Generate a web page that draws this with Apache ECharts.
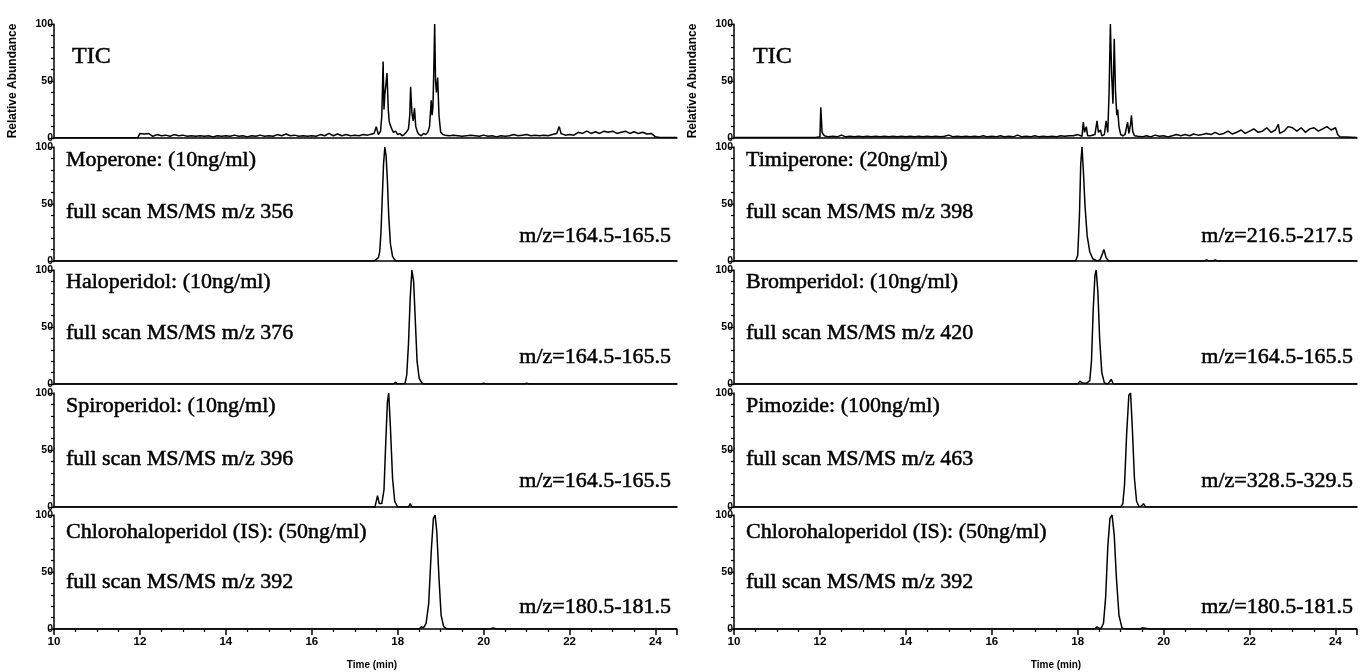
<!DOCTYPE html>
<html><head><meta charset="utf-8">
<script src="https://cdn.jsdelivr.net/npm/echarts@6/dist/echarts.min.js"></script>
<style>html,body{margin:0;padding:0;background:#fff}#c{width:1365px;height:672px}</style>
</head><body><div id="c"></div>
<script>
// ---------- DATA (time in min, relative abundance in %) ----------
const ticLeft = [[10,0.3],[11.95,0.3],[12.0,4],[12.1,3.5],[12.2,4],[12.3,1.5],[12.4,3],[12.5,2],[12.6,2.5],[12.7,1.5],[12.8,3],[12.9,2],[13.0,2.5],[13.1,1.5],[13.2,2],[13.3,1.5],[13.4,2],[13.5,1.5],[13.6,2],[13.7,1],[13.8,2],[13.9,1.5],[14.0,2],[14.1,1.5],[14.2,2.5],[14.3,1.5],[14.4,2],[14.5,1],[14.6,2],[14.7,1.5],[14.8,2.5],[14.9,1.5],[15.0,2],[15.1,1.5],[15.2,3],[15.3,2],[15.4,3.5],[15.5,2],[15.6,2.5],[15.7,1.5],[15.8,2],[15.9,1.5],[16.0,2],[16.1,1.5],[16.2,3],[16.3,2],[16.4,4],[16.5,2],[16.6,3.5],[16.7,2],[16.8,3],[16.9,2],[17.0,2.5],[17.1,2],[17.2,3],[17.3,2.5],[17.4,3.5],[17.45,4],[17.5,10],[17.55,3],[17.6,6],[17.63,20],[17.66,67],[17.68,25],[17.7,38],[17.72,45],[17.75,57],[17.78,25],[17.8,15],[17.82,12],[17.86,8],[17.9,5],[17.95,6],[18.0,3],[18.05,4],[18.1,2],[18.15,3],[18.2,5],[18.25,8],[18.28,20],[18.3,45],[18.33,22],[18.36,15],[18.39,26],[18.42,10],[18.46,5],[18.5,3],[18.55,2],[18.6,4],[18.65,3],[18.7,5],[18.74,10],[18.78,33],[18.8,20],[18.82,28],[18.84,60],[18.86,100],[18.88,50],[18.9,40],[18.93,53],[18.96,20],[19.0,5],[19.05,3],[19.1,2.5],[19.2,2],[19.3,2.5],[19.4,2],[19.5,1.5],[19.6,2],[19.7,2.5],[19.8,2],[19.9,1.5],[20.0,2.5],[20.1,1.5],[20.2,2],[20.3,1],[20.4,2],[20.5,1.5],[20.6,2],[20.7,3],[20.8,2],[20.9,2.5],[21.0,3],[21.1,2],[21.2,2.5],[21.3,2],[21.4,2.5],[21.5,2],[21.6,3],[21.7,4],[21.76,10],[21.8,4],[21.9,2.5],[22.0,3],[22.1,2.5],[22.2,5],[22.3,4],[22.4,6],[22.5,4],[22.6,5.5],[22.7,4],[22.8,6],[22.9,5],[23.0,6],[23.1,4],[23.2,5],[23.3,6],[23.4,4],[23.5,5.5],[23.6,4],[23.7,5],[23.8,3.5],[23.9,4],[24.0,1],[24.1,0.5],[24.5,0.5]];
const moperone = [[10,0],[17.45,0],[17.5,1.5],[17.55,3],[17.58,8],[17.61,25],[17.64,55],[17.67,85],[17.7,100],[17.73,92],[17.76,70],[17.79,40],[17.83,15],[17.88,4],[17.93,1],[17.98,0],[24.5,0]];
const haloperidol = [[10,0],[17.9,0],[17.95,1.5],[18.0,0],[18.17,0.5],[18.21,8],[18.25,35],[18.29,75],[18.33,100],[18.37,90],[18.41,55],[18.45,20],[18.5,5],[18.56,1],[18.62,0],[19.95,0],[20.0,0.7],[20.05,0],[20.95,0],[21.0,0.7],[21.05,0],[24.5,0]];
const spiroperidol = [[10,0],[17.47,0],[17.5,5],[17.53,10],[17.57,3],[17.63,3],[17.68,15],[17.72,55],[17.76,92],[17.79,100],[17.83,70],[17.88,25],[17.93,5],[18.0,0],[18.25,0],[18.29,3],[18.33,0],[24.5,0]];
const chloroLeft = [[10,0],[18.5,0],[18.55,2],[18.6,1],[18.66,5],[18.72,22],[18.78,68],[18.83,97],[18.87,100],[18.91,85],[18.96,45],[19.01,12],[19.07,2],[19.15,0],[20.15,0],[20.22,1],[20.3,0],[24.5,0]];

const ticRight = [[10,0.5],[11.9,0.5],[12.0,1],[12.02,27],[12.05,5],[12.1,2],[12.2,1],[12.3,1.5],[12.4,1],[12.5,2.5],[12.6,1],[12.7,1.5],[12.8,1],[12.9,1.5],[13.0,1],[13.1,1.5],[13.2,1],[13.3,1.5],[13.4,1],[13.5,1.5],[13.6,1],[13.7,1.5],[13.8,1],[13.9,1.5],[14.0,1],[14.1,1.5],[14.2,1],[14.3,1.5],[14.4,1],[14.5,1.5],[14.6,1],[14.7,1.5],[14.8,1],[14.9,1.5],[15.0,2.5],[15.1,1],[15.2,1.5],[15.3,1],[15.4,1.5],[15.5,1],[15.6,1.5],[15.7,1],[15.8,2],[15.9,1],[16.0,1.5],[16.1,1],[16.2,2],[16.3,1],[16.4,1.5],[16.5,1],[16.6,2.5],[16.7,1],[16.8,1.5],[16.9,1],[17.0,2],[17.1,1],[17.2,1.5],[17.3,1],[17.4,1.5],[17.5,1],[17.6,2],[17.7,1.5],[17.8,2],[17.9,2],[18.0,3],[18.1,1.5],[18.13,14],[18.16,5],[18.2,10],[18.23,2],[18.3,2],[18.4,3],[18.45,15],[18.48,5],[18.53,7],[18.56,2],[18.62,3],[18.66,15],[18.7,5],[18.73,40],[18.76,100],[18.79,55],[18.82,30],[18.85,87],[18.88,40],[18.91,20],[18.93,25],[18.96,10],[19.0,3],[19.05,2],[19.1,3],[19.16,14],[19.19,4],[19.23,12],[19.25,20],[19.28,6],[19.32,2],[19.4,1.5],[19.5,1],[19.6,2],[19.7,1],[19.8,2.5],[19.9,1.5],[20.0,2],[20.1,1],[20.2,2],[20.3,3],[20.4,2],[20.5,3],[20.6,2],[20.7,3.5],[20.8,2.5],[20.9,3],[21.0,4],[21.1,3],[21.2,5],[21.3,3],[21.4,4],[21.5,6],[21.6,3.5],[21.7,5],[21.8,7],[21.9,4],[22.0,6],[22.1,8],[22.2,5],[22.3,6],[22.4,9],[22.5,5],[22.6,7],[22.67,12],[22.7,4],[22.8,6],[22.9,10],[23.0,9],[23.1,6],[23.2,9],[23.3,5],[23.4,8],[23.5,9],[23.6,6],[23.7,8],[23.8,10],[23.9,7],[24.0,9],[24.05,3],[24.1,1],[24.5,0.5]];
const timiperone = [[10,0],[17.95,0],[18.0,5],[18.04,40],[18.07,85],[18.1,100],[18.13,80],[18.17,48],[18.22,22],[18.28,8],[18.35,2],[18.45,0],[18.52,1],[18.57,6],[18.61,10],[18.66,3],[18.72,0],[20.95,0],[21.0,1],[21.05,0],[21.15,0],[21.2,1],[21.25,0],[24.5,0]];
const bromperidol = [[10,0],[18.0,0],[18.05,2.5],[18.1,1],[18.2,0.5],[18.28,3],[18.32,20],[18.36,65],[18.4,95],[18.43,100],[18.47,80],[18.51,40],[18.56,10],[18.62,1],[18.7,0],[18.74,2],[18.78,4],[18.83,0],[24.5,0]];
const pimozide = [[10,0],[19.0,0],[19.05,3],[19.09,20],[19.14,65],[19.19,98],[19.23,100],[19.27,70],[19.32,25],[19.37,5],[19.43,0],[19.49,1],[19.53,3],[19.58,0],[24.5,0]];
const chloroRight = [[10,0],[18.4,0],[18.45,2],[18.5,0.5],[18.55,1],[18.6,5],[18.65,28],[18.7,72],[18.75,97],[18.8,100],[18.85,82],[18.9,45],[18.96,12],[19.03,1],[19.1,0],[19.45,0],[19.5,1],[19.6,0.5],[19.7,0],[24.5,0]];

const leftSeries = [ticLeft, moperone, haloperidol, spiroperidol, chloroLeft];
const rightSeries = [ticRight, timiperone, bromperidol, pimozide, chloroRight];

const leftNames = ['Moperone: (10ng/ml)','Haloperidol: (10ng/ml)','Spiroperidol: (10ng/ml)','Chlorohaloperidol (IS): (50ng/ml)'];
const leftScans = ['full scan MS/MS m/z 356','full scan MS/MS m/z 376','full scan MS/MS m/z 396','full scan MS/MS m/z 392'];
const leftMz = ['m/z=164.5-165.5','m/z=164.5-165.5','m/z=164.5-165.5','m/z=180.5-181.5'];
const rightNames = ['Timiperone: (20ng/ml)','Bromperidol: (10ng/ml)','Pimozide: (100ng/ml)','Chlorohaloperidol (IS): (50ng/ml)'];
const rightScans = ['full scan MS/MS m/z 398','full scan MS/MS m/z 420','full scan MS/MS m/z 463','full scan MS/MS m/z 392'];
const rightMz = ['m/z=216.5-217.5','m/z=164.5-165.5','m/z=328.5-329.5','mz/=180.5-181.5'];
const ticLabel = 'TIC';
const yAxisTitle = 'Relative Abundance';
const xAxisTitle = 'Time (min)';
const xMin = 10, xMax = 24.5, xStep = 2;
const yMin = 0, yMax = 100, yStep = 50;

// ---------- LAYOUT ----------
const panelTops = [24, 147, 270, 393, 515];
const panelH = 114;
const cols = [{left: 54, width: 623, textX: 66, ticX: 72, mzX: 671, titleX: 372},
              {left: 734, width: 623, textX: 746, ticX: 753, mzX: 1353, titleX: 1056}];
const nameY = [160, 282, 406, 532];
const scanY = [212, 333, 459, 582];
const mzY = [236, 357, 481, 607];

const grids = [], xAxes = [], yAxes = [], series = [], graphics = [];
const serifFont = '22px "Liberation Serif", "Times New Roman", serif';
const sansFamily = '"Liberation Sans", Arial, sans-serif';

function textEl(x, y, text, font, align) {
  return {type: 'text', x: x, y: y, silent: true,
    style: {text: text, font: font, fill: '#000', stroke: '#000', lineWidth: 0.5,
            textAlign: align, align: align, textVerticalAlign: 'middle', verticalAlign: 'middle'}};
}

cols.forEach((c, ci) => {
  const data = ci === 0 ? leftSeries : rightSeries;
  for (let p = 0; p < 5; p++) {
    const idx = grids.length;
    const bottomPanel = p === 4;
    grids.push({left: c.left, width: c.width, top: panelTops[p], height: panelH, containLabel: false});
    xAxes.push({
      gridIndex: idx, type: 'value', min: xMin, max: xMax, interval: xStep,
      axisLine: {show: true, onZero: false, lineStyle: {color: '#000', width: 1.5}},
      axisTick: {show: bottomPanel, length: 6, lineStyle: {color: '#000', width: 1.5}},
      minorTick: {show: bottomPanel, splitNumber: 4, length: 3, lineStyle: {color: '#000', width: 1.2}},
      axisLabel: {show: bottomPanel, color: '#000', fontWeight: 'bold', fontSize: 11.5,
                  fontFamily: sansFamily, margin: 7, showMaxLabel: false},
      splitLine: {show: false}, minorSplitLine: {show: false}
    });
    yAxes.push({
      gridIndex: idx, type: 'value', min: yMin, max: yMax, interval: yStep,
      axisLine: {show: true, lineStyle: {color: '#000', width: 1.5}},
      axisTick: {show: true, length: 6, lineStyle: {color: '#000', width: 1.3}},
      minorTick: {show: true, splitNumber: 5, length: 3, lineStyle: {color: '#000', width: 1.2}},
      axisLabel: {show: true, color: '#000', fontWeight: 'bold', fontSize: 10.5,
                  fontFamily: sansFamily, margin: 1},
      splitLine: {show: false}, minorSplitLine: {show: false},
      name: p === 0 ? yAxisTitle : '', nameLocation: 'middle', nameRotate: 90, nameGap: 35,
      nameTextStyle: {color: '#000', fontWeight: 'bold', fontSize: 12, fontFamily: sansFamily}
    });
    series.push({
      type: 'line', xAxisIndex: idx, yAxisIndex: idx, data: data[p],
      showSymbol: false, symbol: 'none', smooth: false, silent: true,
      lineStyle: {color: '#000', width: 1.5}
    });
  }
  const names = ci === 0 ? leftNames : rightNames;
  const scans = ci === 0 ? leftScans : rightScans;
  const mzs = ci === 0 ? leftMz : rightMz;
  graphics.push(textEl(c.ticX, 57, ticLabel, '24px "Liberation Serif", serif', 'left'));
  for (let k = 0; k < 4; k++) {
    graphics.push(textEl(c.textX, nameY[k], names[k], serifFont, 'left'));
    graphics.push(textEl(c.textX, scanY[k], scans[k], serifFont, 'left'));
    graphics.push(textEl(c.mzX, mzY[k], mzs[k], serifFont, 'right'));
  }
  graphics.push({type: 'text', x: c.titleX, y: 665, silent: true,
    style: {text: xAxisTitle, font: 'bold 10px ' + sansFamily, fill: '#000',
            textAlign: 'center', align: 'center', textVerticalAlign: 'middle', verticalAlign: 'middle'}});
});

const chart = echarts.init(document.getElementById('c'), null, {renderer: 'canvas'});
chart.setOption({
  animation: false,
  backgroundColor: '#fff',
  grid: grids, xAxis: xAxes, yAxis: yAxes, series: series,
  graphic: {elements: graphics}
});
</script>
</body></html>
